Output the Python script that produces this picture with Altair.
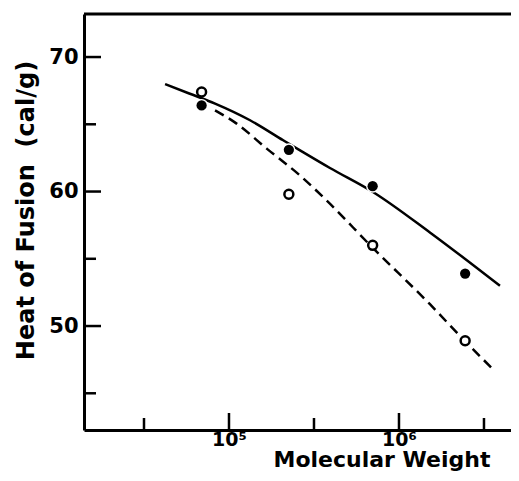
import altair as alt
import pandas as pd

# ---- data ----
MW_PTS = [6.9e4, 2.25e5, 7.0e5, 2.45e6]
FILLED_HF = [66.4, 63.1, 60.4, 53.9]
OPEN_HF = [67.4, 59.8, 56.0, 48.9]

SOLID_MW = [42070, 58350, 82790, 133000, 208400, 261800, 392600, 706300, 1520000, 3926000]
SOLID_HF = [67.99, 67.29, 66.54, 65.3, 63.81, 63.06, 61.75, 59.95, 56.96, 52.99]

DASH_MW = [82790, 110900, 166700, 261800, 375800, 690200, 1521000, 2443000, 3508000]
DASH_HF = [66.04, 65.05, 63.19, 61.19, 59.33, 55.9, 51.62, 48.88, 46.89]

X_TICK_VALUES = [100000, 1000000]
X_TICK_LABELS = ["10⁵", "10⁶"]
X_MINOR = [31623, 316228, 3162278]
Y_TICK_VALUES = [50, 60, 70]
Y_MINOR = [45, 55, 65]
X_DOMAIN = [14030, 4.56e6]
Y_DOMAIN = [42.27, 73.2]

W, H = 427, 416
FONT = "DejaVu Sans"

xs = alt.Scale(type="log", domain=X_DOMAIN, nice=False)
ys = alt.Scale(domain=Y_DOMAIN, nice=False, zero=False)

label_expr = " : ".join(
    f"datum.value == {v} ? '{t}'" for v, t in zip(X_TICK_VALUES, X_TICK_LABELS)
) + " : ''"

x_axis = alt.Axis(
    values=X_TICK_VALUES, labelExpr=label_expr, ticks=False, tickSize=0, grid=False,
    domainColor="black", domainWidth=3, labelFont=FONT, labelFontWeight="bold",
    labelFontSize=19, labelColor="black", labelBaseline="alphabetic", labelPadding=15,
    labelFlush=False, labelOverlap=False,
    title="Molecular Weight", titleFont=FONT, titleFontSize=22, titleFontWeight="bold",
    titleColor="black", titleX=297.5, titleY=36.5, titleBaseline="alphabetic",
    titleAlign="center",
)
y_axis = alt.Axis(
    values=Y_TICK_VALUES, ticks=False, tickSize=0, grid=False,
    domainColor="black", domainWidth=3, labelFont=FONT, labelFontWeight="bold",
    labelFontSize=21, labelColor="black", labelPadding=6,
    title="Heat of Fusion\u00a0 (cal/g)", titleFont=FONT, titleFontSize=24,
    titleFontWeight="bold", titleColor="black", titleAngle=270, titleX=-50.5,
    titleY=196, titleBaseline="alphabetic", titleAlign="center",
)

def X(field):
    return alt.X(f"{field}:Q", scale=xs, axis=x_axis)

def Y(field):
    return alt.Y(f"{field}:Q", scale=ys, axis=y_axis)

solid_df = pd.DataFrame({"mw": SOLID_MW, "hf": SOLID_HF})
dash_df = pd.DataFrame({"mw": DASH_MW, "hf": DASH_HF})
filled_df = pd.DataFrame({"mw": MW_PTS, "hf": FILLED_HF})
open_df = pd.DataFrame({"mw": MW_PTS, "hf": OPEN_HF})

solid = alt.Chart(solid_df).mark_line(color="black", strokeWidth=2.5, interpolate="monotone").encode(
    x=X("mw"), y=Y("hf"))
dashed = alt.Chart(dash_df).mark_line(color="black", strokeWidth=2.5, strokeDash=[10, 6],
                                      interpolate="monotone").encode(x=X("mw"), y=Y("hf"))
halo = alt.Chart(filled_df).mark_circle(color="white", opacity=1, size=170).encode(
    x=X("mw"), y=Y("hf"))
filled = alt.Chart(filled_df).mark_circle(color="black", opacity=1, size=105).encode(
    x=X("mw"), y=Y("hf"))
opened = alt.Chart(open_df).mark_point(shape="circle", fill="white", filled=False, stroke="black",
                                       strokeWidth=2.5, opacity=1, fillOpacity=1, size=80).encode(
    x=X("mw"), y=Y("hf"))

def xticks(vals, length):
    return alt.Chart(pd.DataFrame({"mw": vals})).mark_rule(color="black", strokeWidth=2.5).encode(
        x=X("mw"), y=alt.value(H), y2=alt.value(H - length))

def yticks(vals, length):
    return alt.Chart(pd.DataFrame({"hf": vals})).mark_rule(color="black", strokeWidth=2.5).encode(
        y=Y("hf"), x=alt.value(0), x2=alt.value(length))

top_line = alt.Chart(pd.DataFrame({"v": [0]})).mark_rule(color="black", strokeWidth=3).encode(
    x=alt.value(0), x2=alt.value(W), y=alt.value(0))

chart = alt.layer(
    solid, dashed, halo, filled, opened,
    xticks(X_TICK_VALUES, 17), xticks(X_MINOR, 12),
    yticks(Y_TICK_VALUES, 17), yticks(Y_MINOR, 12),
    top_line,
).properties(
    width=W, height=H,
    autosize=alt.AutoSizeParams(type="none"),
    padding={"left": 76, "top": 6, "right": 0, "bottom": 42},
    background="white",
).configure_view(stroke=None)

chart.save("out.html", embed_options={"renderer": "svg", "actions": False})
